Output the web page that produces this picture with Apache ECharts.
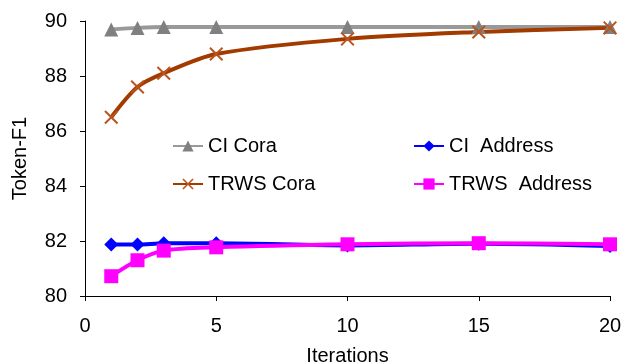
<!DOCTYPE html>
<html>
<head><meta charset="utf-8"></head>
<script type="text/javascript" src="https://cdn.jsdelivr.net/npm/echarts@6/dist/echarts.min.js"></script>
<body style="margin:0;background-color:#fff;">
    <div id="main" style="width:623px;height:363px;"></div>
</body>
<script type="text/javascript">
// 迭代次数
var iterations = [1, 2, 3, 5, 10, 15, 20]
var ciCora = [89.69, 89.75, 89.78, 89.78, 89.78, 89.78, 89.78]
var trwsCora = [86.5, 87.6, 88.1, 88.8, 89.35, 89.6, 89.75]
var ciAddress = [81.87, 81.87, 81.92, 81.92, 81.84, 81.9, 81.82]
var trwsAddress = [80.72, 81.3, 81.65, 81.77, 81.88, 81.92, 81.88]

function pairs(vals){
    var out = []
    for (var i = 0; i < iterations.length; i++) {
        out.push([iterations[i], vals[i]])
    }
    return out
}

var crossPath = 'path://M0,1L1,0L5,4L9,0L10,1L6,5L10,9L9,10L5,6L1,10L0,9L4,5Z'
var font = 'Liberation Sans, Arial, sans-serif'

var myChart = echarts.init(document.getElementById('main'))
myChart.setOption({
    animation: false,
    textStyle: {fontFamily: font},
    grid: {left: 85, right: 13, top: 21, bottom: 67, outerBoundsMode: 'none'},
    legend: [
        {
            data: ['CI Cora', 'TRWS Cora'],
            orient: 'vertical',
            left: 167, top: 131,
            itemWidth: 30, itemHeight: 14, itemGap: 18,
            textStyle: {fontSize: 20, color: '#000', fontFamily: font}
        },
        {
            data: ['CI  Address', 'TRWS  Address'],
            orient: 'vertical',
            left: 408, top: 131,
            itemWidth: 30, itemHeight: 14, itemGap: 18,
            textStyle: {fontSize: 20, color: '#000', fontFamily: font}
        }
    ],
    xAxis: {
        type: 'value',
        min: 0, max: 20, interval: 5,
        name: 'Iterations',
        nameLocation: 'middle',
        nameGap: 50,
        nameTextStyle: {fontSize: 20, color: '#000'},
        axisLine: {lineStyle: {color: '#000', width: 1}},
        axisTick: {show: true, length: 5, lineStyle: {color: '#000'}},
        axisLabel: {fontSize: 20, color: '#000', margin: 20},
        splitLine: {show: false}
    },
    yAxis: {
        type: 'value',
        min: 80, max: 90, interval: 2,
        name: 'Token-F1',
        nameLocation: 'middle',
        nameGap: 55,
        nameTextStyle: {fontSize: 20, color: '#000'},
        axisLine: {show: true, lineStyle: {color: '#000', width: 1}},
        axisTick: {show: true, length: 5, lineStyle: {color: '#000'}},
        axisLabel: {fontSize: 20, color: '#000', margin: 18},
        splitLine: {show: false}
    },
    series: [
        {
            name: 'CI Cora', type: 'line', data: pairs(ciCora), smooth: 0.3,
            symbol: 'triangle', symbolSize: 14,
            lineStyle: {color: '#999999', width: 4},
            itemStyle: {color: '#808080'}
        },
        {
            name: 'TRWS Cora', type: 'line', data: pairs(trwsCora), smooth: 0.3,
            symbol: crossPath, symbolSize: 14,
            lineStyle: {color: '#A33A00', width: 4},
            itemStyle: {color: '#B8551E'}
        },
        {
            name: 'CI  Address', type: 'line', data: pairs(ciAddress), smooth: 0.3,
            symbol: 'diamond', symbolSize: 14,
            lineStyle: {color: '#0000FF', width: 4},
            itemStyle: {color: '#0000FF'}
        },
        {
            name: 'TRWS  Address', type: 'line', data: pairs(trwsAddress), smooth: 0.3,
            symbol: 'rect', symbolSize: 14,
            lineStyle: {color: '#FF00FF', width: 4},
            itemStyle: {color: '#FF00FF'}
        }
    ]
})
</script>
</html>
